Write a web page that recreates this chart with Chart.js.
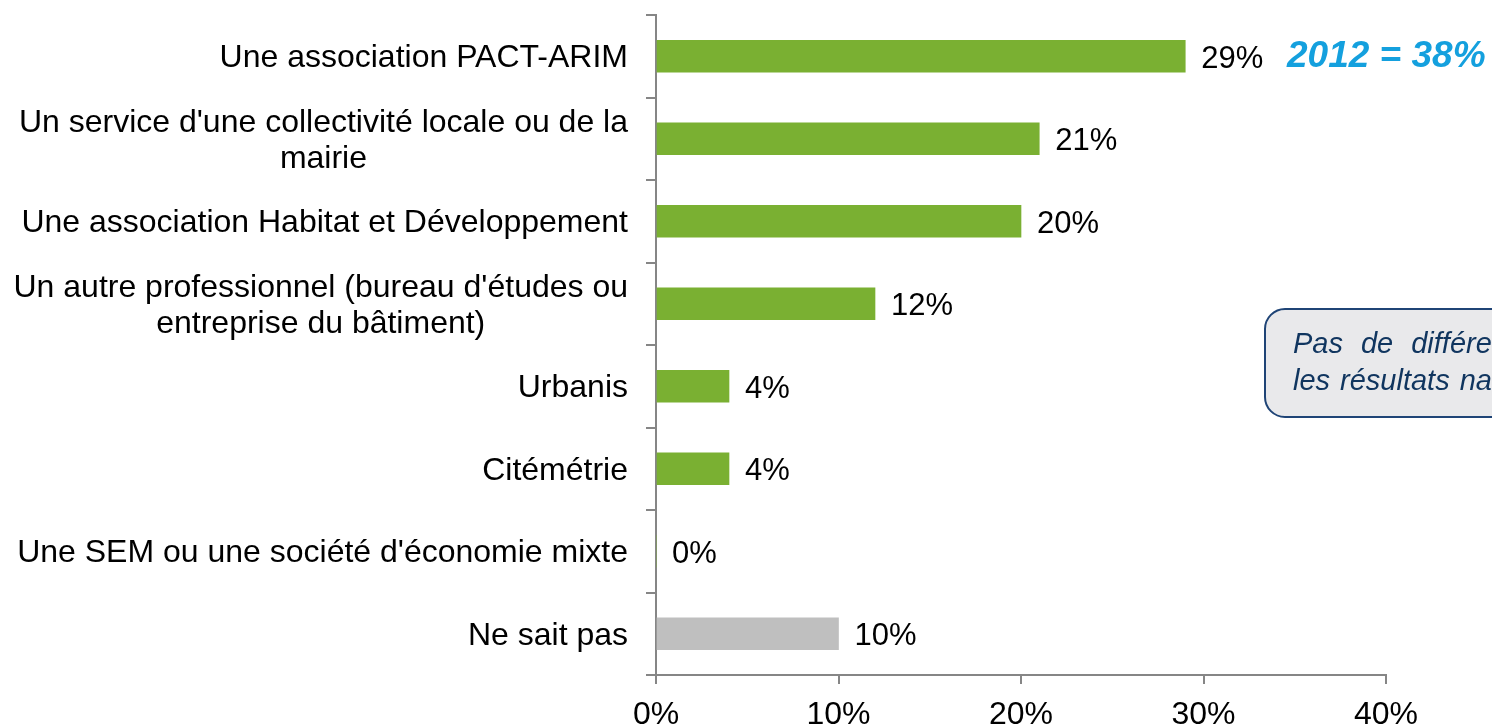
<!DOCTYPE html>
<html><head><meta charset="utf-8">
<script src="https://cdn.jsdelivr.net/npm/chart.js@4"></script>
<style>html,body{margin:0;padding:0;background:#fff;}#wrap{width:1492px;height:725px;position:relative;}</style>
</head><body><div id="wrap"><canvas id="c" width="1492" height="725"></canvas></div>
<script>
const categories = [
  ["Une association PACT-ARIM"],
  ["Un service d'une collectivité locale ou de la", "mairie"],
  ["Une association Habitat et Développement"],
  ["Un autre professionnel (bureau d'études ou", "entreprise du bâtiment)"],
  ["Urbanis"],
  ["Citémétrie"],
  ["Une SEM ou une société d'économie mixte"],
  ["Ne sait pas"]
];
const values = [29, 21, 20, 12, 4, 4, 0, 10];
const barColors = ["#7AB032","#7AB032","#7AB032","#7AB032","#7AB032","#7AB032","#7AB032","#BFBFBF"];
const xTicks = [0, 10, 20, 30, 40];
const note2012 = "2012 = 38%";
const boxLines = [["Pas","de","différence","significative","avec"],["les","résultats","nationaux"]];

const FONT = '"Liberation Sans", Arial, sans-serif';
const AXIS = '#868686';

const labelsPlugin = {
  id: 'labels',
  afterDatasetsDraw(chart) {
    const ctx = chart.ctx;
    const ys = chart.scales.y;
    ctx.save();
    // category labels
    ctx.font = '32px ' + FONT;
    ctx.fillStyle = '#000';
    ctx.textBaseline = 'middle';
    ctx.textAlign = 'center';
    const lh = 36;
    categories.forEach((lines, i) => {
      const y = ys.getPixelForTick(i) + 2;
      const w = Math.max(...lines.map(l => ctx.measureText(l).width));
      const cx = 628 - w / 2;
      const y0 = y - (lines.length - 1) * lh / 2;
      lines.forEach((l, k) => ctx.fillText(l, cx, y0 + k * lh));
    });
    // value labels
    ctx.textAlign = 'left';
    ctx.font = '31px ' + FONT;
    const meta = chart.getDatasetMeta(0);
    meta.data.forEach((bar, i) => {
      ctx.fillText(values[i] + '%', bar.x + 16, bar.y + 3);
    });
    // 2012 note
    ctx.font = 'italic bold 37px ' + FONT;
    ctx.fillStyle = '#14A0DE';
    ctx.fillText(note2012, 1287, meta.data[0].y + 1);
    // box
    ctx.beginPath();
    ctx.roundRect(1265, 309, 320, 108, 20);
    ctx.fillStyle = '#E9E9EB';
    ctx.fill();
    ctx.lineWidth = 2;
    ctx.strokeStyle = '#1F4476';
    ctx.stroke();
    ctx.font = 'italic 29px ' + FONT;
    ctx.fillStyle = '#10355F';
    ctx.textBaseline = 'alphabetic';
    const gaps = [18, 10];
    const bases = [353, 390];
    boxLines.forEach((words, li) => {
      let x = 1293;
      words.forEach(wd => {
        ctx.fillText(wd, x, bases[li]);
        x += ctx.measureText(wd).width + gaps[li];
      });
    });
    ctx.restore();
  }
};

new Chart(document.getElementById('c'), {
  type: 'bar',
  data: {
    labels: categories,
    datasets: [{ data: values, backgroundColor: barColors, barThickness: 32, borderWidth: 0 }]
  },
  options: {
    indexAxis: 'y',
    responsive: false,
    animation: false,
    layout: { padding: { left: 0, right: 106, top: 15, bottom: 0 } },
    plugins: { legend: { display: false }, tooltip: { enabled: false } },
    scales: {
      y: {
        ticks: { display: false },
        grid: { display: true, drawOnChartArea: false, drawTicks: true, tickLength: 10, color: AXIS, lineWidth: 2, offset: true },
        border: { display: true, color: AXIS, width: 2 },
        afterFit(s) { s.width = 656; }
      },
      x: {
        min: 0, max: 40,
        afterBuildTicks(s) { s.ticks = xTicks.map(v => ({ value: v })); },
        ticks: { callback: v => v + '%', color: '#000', font: { size: 32, family: FONT }, padding: 12, maxRotation: 0, autoSkip: false },
        grid: { display: true, drawOnChartArea: false, drawTicks: true, tickLength: 9, color: AXIS, lineWidth: 2 },
        border: { display: true, color: AXIS, width: 2 },
        afterFit(s) { s.height = 50; }
      }
    }
  },
  plugins: [labelsPlugin]
});
</script></body></html>
